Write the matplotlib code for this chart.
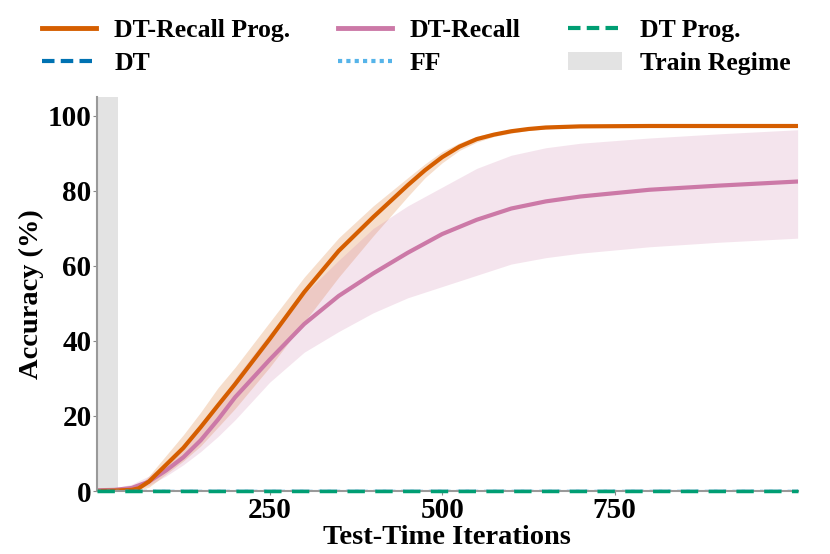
import matplotlib
matplotlib.use("Agg")
import matplotlib.pyplot as plt
from matplotlib.patches import Patch
from matplotlib.lines import Line2D

plt.rcParams['font.family'] = ['Liberation Serif', 'DejaVu Serif']
plt.rcParams['font.weight'] = 'bold'

# leituras do grafico (iteracoes de teste -> acuracia %)
iters_prog = [0, 25, 50, 60, 75, 100, 125, 150, 175, 200, 250, 300, 350, 400,
              450, 475, 500, 525, 550, 575, 600, 625, 650, 700, 800, 900, 1015]
recall_prog = [0.0, 0.1, 0.3, 0.7, 2.5, 7.0, 11.5, 17.0, 22.8, 28.5, 40.5, 53.0,
               64.0, 73.0, 81.5, 85.5, 89.0, 91.8, 93.8, 95.0, 95.9, 96.5, 96.9,
               97.2, 97.3, 97.3, 97.3]
recall_prog_lo = [0.0, 0.0, 0.0, 0.2, 1.0, 4.5, 8.0, 12.0, 17.0, 22.0, 33.0, 45.0,
                  57.0, 68.0, 78.5, 83.5, 87.5, 90.8, 93.0, 94.5, 95.4, 96.1, 96.5,
                  97.0, 97.1, 97.1, 97.1]
recall_prog_hi = [0.1, 0.3, 0.6, 1.3, 4.0, 9.5, 15.0, 21.0, 27.5, 33.0, 45.0, 57.0,
                  67.5, 76.0, 83.5, 87.2, 90.5, 92.8, 94.6, 95.6, 96.4, 96.9, 97.2,
                  97.5, 97.5, 97.5, 97.5]

iters_recall = [0, 25, 50, 75, 100, 125, 150, 175, 200, 250, 300, 350, 400, 450,
                500, 550, 600, 650, 700, 800, 900, 1015]
recall = [0.2, 0.3, 0.8, 2.5, 5.5, 9.0, 13.5, 19.0, 25.0, 35.0, 44.5, 52.0, 58.0,
          63.5, 68.5, 72.3, 75.3, 77.2, 78.5, 80.3, 81.4, 82.5]
recall_lo = [0.0, 0.1, 0.3, 1.5, 4.0, 7.0, 10.5, 14.5, 19.0, 29.0, 37.0, 42.5, 47.5,
             51.5, 54.5, 57.5, 60.5, 62.2, 63.4, 65.1, 66.3, 67.4]
recall_hi = [0.5, 0.8, 1.8, 4.0, 7.5, 11.5, 16.5, 23.0, 30.0, 42.0, 52.5, 61.5, 70.0,
             76.0, 81.0, 86.0, 89.5, 91.5, 92.7, 94.1, 95.2, 96.3]

iters_zero = [0, 1015]
dt = [0, 0]
ff = [0, 0]
dt_prog = [0, 0]

train_regime = (0, 30)

C_ORANGE = '#D55E00'
C_PINK = '#CC79A7'
C_GREEN = '#009E73'
C_BLUE = '#0072B2'
C_SKY = '#56B4E9'
C_GRAY = '#e3e3e3'

fig = plt.figure(figsize=(8.3, 5.54), dpi=100)
ax = fig.add_axes([0.117, 0.1137, 0.844, 0.711])

ax.axvspan(train_regime[0], train_regime[1], color=C_GRAY, lw=0, zorder=0)

ax.fill_between(iters_prog, recall_prog_lo, recall_prog_hi, color=C_ORANGE,
                alpha=0.2, lw=0)
ax.fill_between(iters_recall, recall_lo, recall_hi, color=C_PINK, alpha=0.2, lw=0)
ax.plot(iters_recall, recall, color=C_PINK, lw=3)
ax.plot(iters_prog, recall_prog, color=C_ORANGE, lw=3)

ax.plot(iters_zero, dt, color=C_BLUE, lw=2.5, ls=(0, (5, 3)))
ax.plot(iters_zero, ff, color=C_SKY, lw=2.5, ls=':')
ax.plot(iters_zero, dt_prog, color=C_GREEN, lw=2.5, ls=(0, (5, 3)), zorder=5,
        clip_on=False)

ax.set_xlim(0, 1015)
ax.set_ylim(0, 105)
ax.set_xticks([250, 500, 750])
ax.set_yticks([0, 20, 40, 60, 80, 100])
ax.tick_params(labelsize=21, length=3, color='#888888', pad=1)
for lbl in ax.get_xticklabels() + ax.get_yticklabels():
    lbl.set_fontweight('bold')

for s in ['top', 'right']:
    ax.spines[s].set_visible(False)
for s in ['left', 'bottom']:
    ax.spines[s].set_color('#999999')
    ax.spines[s].set_linewidth(1.5)

ax.set_xlabel('Test-Time Iterations', fontsize=20.5, fontweight='bold', labelpad=1)
ax.set_ylabel('Accuracy (%)', fontsize=20.5, fontweight='bold', labelpad=3)

handles = [
    Line2D([], [], color=C_ORANGE, lw=3.5),
    Line2D([], [], color=C_BLUE, lw=3, ls=(0, (3, 1.5))),
    Line2D([], [], color=C_PINK, lw=3.5),
    Line2D([], [], color=C_SKY, lw=3, ls=(0, (1, 1))),
    Line2D([], [], color=C_GREEN, lw=3, ls=(0, (3, 1.5))),
    Patch(facecolor=C_GRAY, edgecolor='none'),
]
labels = ['DT-Recall Prog.', 'DT', 'DT-Recall', 'FF', 'DT Prog.', 'Train Regime']
fig.legend(handles, labels, loc='upper center', bbox_to_anchor=(0.502, 1.008),
           ncol=3, frameon=False, prop={'size': 18.5, 'weight': 'bold'},
           handlelength=2.1, handletextpad=0.7, columnspacing=1.85,
           labelspacing=0.42)

fig.savefig('out.png', dpi=100)
